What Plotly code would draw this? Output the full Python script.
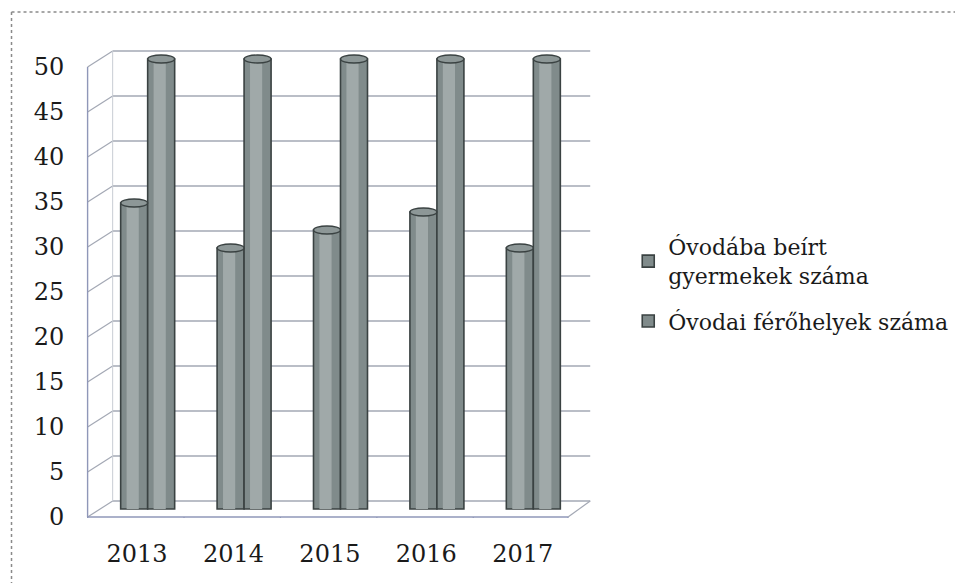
import plotly.graph_objects as go

years = ["2013", "2014", "2015", "2016", "2017"]
enrolled = [34, 29, 31, 33, 29]
capacity = [50, 50, 50, 50, 50]
y_ticks = [0, 5, 10, 15, 20, 25, 30, 35, 40, 45, 50]
series_names = ["Óvodába beírt<br>gyermekek száma", "Óvodai férőhelyek száma"]

FONT = "DejaVu Serif"
xs = list(range(len(years)))
DEPTH = 0.89          # half-depth offset in y units
XF, XB = -0.623, -0.363  # front / back left edge in x units
XR_F, XR_B = 4.36, 4.59

# plot area (screen pixels, page body has 8px margin)
PL, PT, PW, PH = 85.4, 41.0, 510.4, 477.0
PB = PT + PH
OFF = 8

fig = go.Figure()
bar_w = 0.28
BASE = "#808b8b"
LIGHT = "#a0a9a9"
EDGE = "#3a4242"
shapes = []
for gi, (vals, name, off) in enumerate([(enrolled, series_names[0], -bar_w), (capacity, series_names[1], 0.0)]):
    fig.add_trace(go.Bar(
        x=xs, y=vals, name=name, width=bar_w, offset=off, legendgroup=f"g{gi}",
        marker=dict(color=BASE, line=dict(color=EDGE, width=1.6)),
    ))
    fig.add_trace(go.Bar(
        x=xs, y=vals, name=name, width=bar_w * 0.45, offset=off + bar_w * 0.22, legendgroup=f"g{gi}",
        marker=dict(color=LIGHT, line=dict(width=0)), showlegend=False, hoverinfo="skip",
    ))
    for xi, v in zip(xs, vals):
        shapes.append(dict(type="circle", xref="x", yref="y",
                           x0=xi + off, x1=xi + off + bar_w, y0=v - 0.45, y1=v + 0.45,
                           fillcolor="#8d9797", line=dict(color=EDGE, width=1.4), layer="above"))

grid_col = "#a3a8b4"
for v in y_ticks:
    shapes.append(dict(type="line", xref="x", yref="y", x0=XB, x1=XR_B, y0=v + DEPTH, y1=v + DEPTH,
                       line=dict(color=grid_col, width=1.4), layer="below"))
    shapes.append(dict(type="line", xref="x", yref="y", x0=XF, x1=XB, y0=v - DEPTH, y1=v + DEPTH,
                       line=dict(color=grid_col, width=1.2), layer="below"))
shapes.append(dict(type="line", xref="x", yref="y", x0=XB, x1=XB, y0=DEPTH, y1=50 + DEPTH,
                   line=dict(color="#c8ccd4", width=1), layer="below"))
shapes.append(dict(type="line", xref="x", yref="y", x0=XF, x1=XF, y0=-DEPTH, y1=50 - DEPTH,
                   line=dict(color="#8f97b8", width=1.4)))
shapes.append(dict(type="line", xref="x", yref="y", x0=XF, x1=XR_F, y0=-DEPTH, y1=-DEPTH,
                   line=dict(color="#8f97b8", width=1.6)))
shapes.append(dict(type="line", xref="x", yref="y", x0=XR_F, x1=XR_B, y0=-DEPTH, y1=DEPTH,
                   line=dict(color=grid_col, width=1.2)))
for k in range(len(years) + 1):
    xk = min(XF + k, XR_F)
    shapes.append(dict(type="line", xref="x", yref="y", x0=xk, x1=xk, y0=-DEPTH, y1=-DEPTH - 0.6,
                       line=dict(color="#8f97b8", width=1.2)))
shapes.append(dict(type="line", xref="paper", yref="paper",
                   x0=(12 - PL) / PW, x1=(958 - PL) / PW, y0=(PB - 12) / PH, y1=(PB - 12) / PH,
                   line=dict(color="#8a8a8a", width=1.5, dash="dot")))
shapes.append(dict(type="line", xref="paper", yref="paper",
                   x0=(12 - PL) / PW, x1=(12 - PL) / PW, y0=(PB - 12) / PH, y1=(PB - 583) / PH,
                   line=dict(color="#8a8a8a", width=1.5, dash="dot")))

W, H = 963 - OFF, 585 - OFF
ml, mt = PL - OFF, PT - OFF
fig.update_layout(
    width=W, height=H,
    margin=dict(l=ml, r=W - ml - PW, t=mt, b=H - mt - PH, autoexpand=False),
    paper_bgcolor="white", plot_bgcolor="white",
    barmode="overlay",
    font=dict(family=FONT, color="#1a1a1a"),
    shapes=shapes,
    showlegend=True,
    legend=dict(x=(628 - PL) / PW, xanchor="left", y=(PB - 284) / PH, yanchor="middle",
                xref="paper", yref="paper", tracegroupgap=14,
                font=dict(family=FONT, size=22, color="#1a1a1a"),
                bgcolor="rgba(0,0,0,0)", itemwidth=30),
    xaxis=dict(range=[-0.65, 4.65], showgrid=False, zeroline=False, showline=False, automargin=False,
               tickmode="array", tickvals=[i - 0.11 for i in xs], ticktext=years,
               ticks="outside", ticklen=14, tickcolor="rgba(0,0,0,0)",
               tickfont=dict(family=FONT, size=24, color="#1a1a1a")),
    yaxis=dict(range=[-1, 52], showgrid=False, zeroline=False, showline=False, automargin=False,
               tickmode="array", tickvals=[v - DEPTH for v in y_ticks], ticktext=[str(v) for v in y_ticks],
               ticks="outside", ticklen=15, tickcolor="rgba(0,0,0,0)",
               tickfont=dict(family=FONT, size=24, color="#1a1a1a")),
)

fig.write_html("out.html")
